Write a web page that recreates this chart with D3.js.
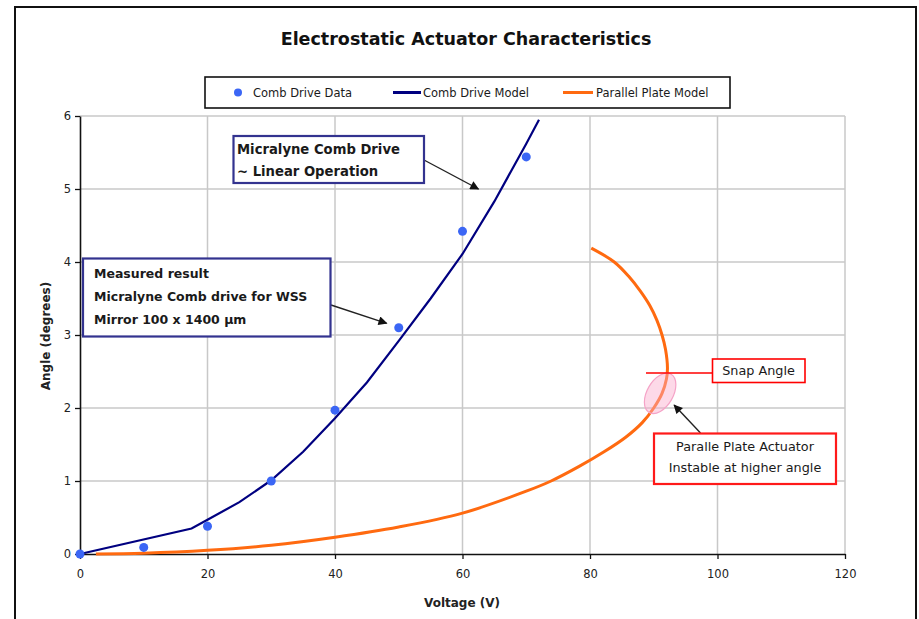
<!DOCTYPE html>
<html>
<head>
<meta charset="utf-8">
<script src="https://cdn.jsdelivr.net/npm/d3@7/dist/d3.min.js"></script>
<style>
  html, body { margin: 0; padding: 0; background: #fff; }
  svg { display: block; font-family: "DejaVu Sans", Verdana, sans-serif; }
</style>
</head>
<body>
<svg id="chart" width="919" height="619"></svg>
<script>
// ---------- DATA ----------
const chartTitle = "Electrostatic Actuator Characteristics";
const xTicks = [0, 20, 40, 60, 80, 100, 120];
const yTicks = [0, 1, 2, 3, 4, 5, 6];
const legendLabels = ["Comb Drive Data", "Comb Drive Model", "Parallel Plate Model"];

// Comb Drive Data (measured points)
const combDataVoltage = [0, 10, 20, 30, 40, 50, 60, 70];
const combDataAngle   = [0, 0.09, 0.38, 1.0, 1.97, 3.1, 4.42, 5.44];

// Comb Drive Model line
const combModelVoltage = [0, 17.5, 20, 25, 30, 35, 40, 45, 50, 55, 60, 65, 70, 72];
const combModelAngle   = [0, 0.35, 0.47, 0.71, 1.01, 1.4, 1.86, 2.35, 2.92, 3.5, 4.11, 4.83, 5.62, 5.95];

// Parallel Plate Model (folds back after snap)
const plateModelVoltage = [2.5, 10, 20, 30, 40, 50, 60, 70, 73.9, 78.3, 82.2, 85.6, 88.2, 90.0, 91.3, 92.0, 92.15, 91.85, 91.3, 90.5, 89.4, 87.9, 86.1, 83.8, 80.2];
const plateModelAngle   = [0, 0.01, 0.05, 0.12, 0.23, 0.37, 0.56, 0.86, 1.0, 1.2, 1.4, 1.6, 1.8, 2.0, 2.2, 2.4, 2.55, 2.8, 3.0, 3.2, 3.4, 3.6, 3.8, 4.0, 4.19];

const snapAngle = 2.48;

// ---------- LAYOUT ----------
const svg = d3.select("#chart");
const x = d3.scaleLinear().domain([0, 120]).range([80, 845]);
const y = d3.scaleLinear().domain([0, 6]).range([554, 116]);

// outer frame
svg.append("rect").attr("x", 15).attr("y", 7).attr("width", 901).attr("height", 640)
  .attr("fill", "#fff").attr("stroke", "#111").attr("stroke-width", 2);

// title
svg.append("text").attr("x", 466).attr("y", 45).attr("text-anchor", "middle")
  .attr("font-size", 17.5).attr("font-weight", "bold").attr("fill", "#111").text(chartTitle);

// gridlines
svg.append("g").selectAll("line").data(xTicks.filter(d => d > 0)).join("line")
  .attr("x1", d => x(d)).attr("x2", d => x(d)).attr("y1", y(0)).attr("y2", y(6))
  .attr("stroke", "#c8c8c8").attr("stroke-width", 1.5);
svg.append("g").selectAll("line").data(yTicks.filter(d => d > 0)).join("line")
  .attr("x1", x(0)).attr("x2", x(120)).attr("y1", d => y(d)).attr("y2", d => y(d))
  .attr("stroke", "#c8c8c8").attr("stroke-width", 1.5);

// axes
const xAxis = svg.append("g").attr("transform", `translate(0,${y(0)})`)
  .call(d3.axisBottom(x).tickValues(xTicks).tickSize(5).tickSizeOuter(0).tickFormat(d3.format("d")));
const yAxis = svg.append("g").attr("transform", `translate(${x(0)},0)`)
  .call(d3.axisLeft(y).tickValues(yTicks).tickSize(5).tickSizeOuter(0).tickFormat(d3.format("d")));
[xAxis, yAxis].forEach(a => {
  a.select(".domain").attr("stroke", "#111").attr("stroke-width", 1.6);
  a.selectAll(".tick line").attr("stroke", "#111").attr("stroke-width", 1.3);
  a.selectAll(".tick text").attr("font-size", 11.5).attr("fill", "#222")
    .attr("font-family", '"DejaVu Sans", sans-serif');
});
xAxis.selectAll(".tick text").attr("dy", null).attr("y", 24);
yAxis.selectAll(".tick text").attr("x", -9);

// axis titles
svg.append("text").attr("x", 462).attr("y", 607).attr("text-anchor", "middle")
  .attr("font-size", 12).attr("font-weight", "bold").attr("fill", "#222").text("Voltage (V)");
svg.append("text").attr("transform", `translate(50,336) rotate(-90)`).attr("text-anchor", "middle")
  .attr("font-size", 12).attr("font-weight", "bold").attr("fill", "#222").text("Angle (degrees)");

// lines
const line = d3.line().x(d => x(d[0])).y(d => y(d[1]));
svg.append("path").datum(d3.zip(combModelVoltage, combModelAngle))
  .attr("d", line).attr("fill", "none").attr("stroke", "#000080").attr("stroke-width", 2.2);

svg.append("path").datum(d3.zip(plateModelVoltage, plateModelAngle))
  .attr("d", d3.line().x(d => x(d[0])).y(d => y(d[1])).curve(d3.curveCatmullRom.alpha(0.5)))
  .attr("fill", "none").attr("stroke", "#ff6a10").attr("stroke-width", 3);

// data points
svg.append("g").selectAll("circle").data(d3.zip(combDataVoltage, combDataAngle)).join("circle")
  .attr("cx", d => x(d[0])).attr("cy", d => y(d[1])).attr("r", 4.5).attr("fill", "#3b66f5");

// arrow marker
const defs = svg.append("defs");
defs.append("marker").attr("id", "arr").attr("viewBox", "0 0 10 10").attr("refX", 9).attr("refY", 5)
  .attr("markerWidth", 11).attr("markerHeight", 9).attr("orient", "auto")
  .attr("markerUnits", "userSpaceOnUse")
  .append("path").attr("d", "M0,0 L10,5 L0,10 z").attr("fill", "#111");

function arrow(x1, y1, x2, y2) {
  svg.append("line").attr("x1", x1).attr("y1", y1).attr("x2", x2).attr("y2", y2)
    .attr("stroke", "#222").attr("stroke-width", 1.4).attr("marker-end", "url(#arr)");
}
function box(x0, y0, w, h, color, sw) {
  svg.append("rect").attr("x", x0).attr("y", y0).attr("width", w).attr("height", h)
    .attr("fill", "#fff").attr("stroke", color).attr("stroke-width", sw);
}
function textLines(lines, x0, y0, dy, size, weight, anchor) {
  lines.forEach((t, i) => svg.append("text").attr("x", x0).attr("y", y0 + i * dy)
    .attr("font-size", size).attr("font-weight", weight).attr("text-anchor", anchor || "start")
    .attr("fill", "#1a1a1a").text(t));
}

// Comb drive callout
arrow(424, 160, x(62.5), y(5.0));
box(233.5, 136, 190.5, 47, "#33338f", 2.2);
textLines(["Micralyne Comb Drive", "~ Linear Operation"], 237, 153.5, 22, 13.2, "bold");

// Measured result callout
arrow(331, 305, x(48.1), y(3.16));
box(83, 258.5, 247.5, 78, "#33338f", 2.2);
textLines(["Measured result", "Micralyne Comb drive for WSS", "Mirror 100 x 1400 µm"], 94, 278, 23, 12.5, "bold");

// pink ellipse at snap region
svg.append("ellipse").attr("cx", x(91.0)).attr("cy", y(2.2)).attr("rx", 13).attr("ry", 22)
  .attr("transform", `rotate(30,${x(91.0)},${y(2.2)})`)
  .attr("fill", "rgba(250,170,205,0.45)").attr("stroke", "#f5a3c7").attr("stroke-width", 1.2);

// snap angle line and box
svg.append("line").attr("x1", 646).attr("x2", 713).attr("y1", y(snapAngle)).attr("y2", y(snapAngle))
  .attr("stroke", "#ff0000").attr("stroke-width", 1.4);
box(712.5, 359, 92.5, 23.5, "#ff0000", 1.6);
textLines(["Snap Angle"], 758.5, 375, 0, 12.8, "normal", "middle");

// parallel plate callout
arrow(700.5, 433, x(93.2), y(2.04));
box(654, 433.5, 182, 50.5, "#ff1a1a", 2.2);
textLines(["Paralle Plate Actuator", "Instable at higher angle"], 745, 451, 21, 12.8, "normal", "middle");

// legend
box(205, 77, 525, 31, "#111", 1.6);
svg.append("circle").attr("cx", 238).attr("cy", 92.5).attr("r", 4).attr("fill", "#3b66f5");
svg.append("line").attr("x1", 393).attr("x2", 421).attr("y1", 92.5).attr("y2", 92.5)
  .attr("stroke", "#000080").attr("stroke-width", 3);
svg.append("line").attr("x1", 563).attr("x2", 593).attr("y1", 92.5).attr("y2", 92.5)
  .attr("stroke", "#ff6a10").attr("stroke-width", 3);
[[253, 0], [423, 1], [596, 2]].forEach(([lx, i]) =>
  svg.append("text").attr("x", lx).attr("y", 96.5).attr("font-size", 11.5).attr("fill", "#1a1a1a").text(legendLabels[i]));
</script>
</body>
</html>
